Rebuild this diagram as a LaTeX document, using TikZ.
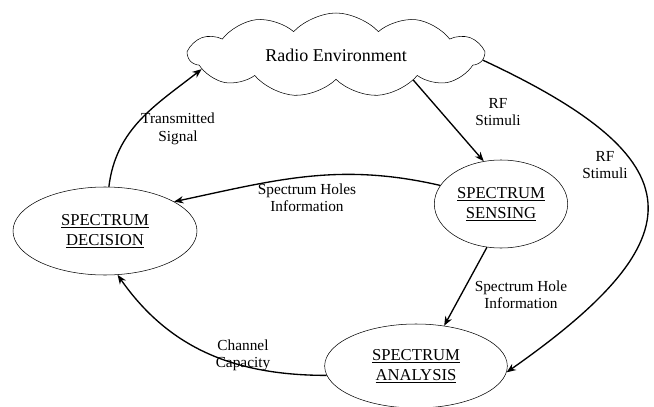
\documentclass[tikz,border=0pt]{standalone}
\usepackage{fontspec}
\setmainfont{Liberation Serif}
\usetikzlibrary{shapes.symbols,shapes.geometric,arrows.meta}

\begin{document}
\begin{tikzpicture}[x=0.75pt,y=-0.75pt,
    function/.style ={ellipse, draw, thin, inner sep = 0pt, align=center,
      font=\fontsize{12.5}{15}\selectfont},
    environment/.style ={cloud, draw, thin, cloud puffs=11, cloud puff arc=95,
      cloud ignores aspect, minimum width=221pt, minimum height=63pt,
      font=\fontsize{13.5}{15}\selectfont},
    flow/.style ={line width=1pt, -{Stealth[length=7pt,width=5.5pt]}},
    flowlabel/.style ={align=center, inner sep=0pt, font=\fontsize{11.5}{13}\selectfont}]
   \useasboundingbox (0,0) rectangle (654,407);
   \node[environment] (env) at (336,55) {Radio Environment};
   \node[function, minimum width=138pt, minimum height=66pt] (dec) at (105,231)
     {\underline{SPECTRUM}\\\underline{DECISION}};
   \node[function, minimum width=100pt, minimum height=66pt] (sens) at (501,204)
     {\underline{SPECTRUM}\\\underline{SENSING}};
   \node[function, minimum width=137pt, minimum height=63pt] (ana) at (416,366)
     {\underline{SPECTRUM}\\\underline{ANALYSIS}};
   % the cognitive cycle
   \draw[flow] (env.-18) -- (sens.112);
   \draw[flow] (env.-2) to [out=-25, in=35, looseness=1.93] (ana.-4);
   \draw[flow] (sens.163) to [out=167, in=12] (dec.23);
   \draw[flow] (sens.-108) -- (ana.55);
   \draw[flow] (ana.186) to [out=180, in=-55] (dec.-74);
   \draw[flow] (dec.85) to [out=83, in=218] (env.186);
   \node[flowlabel] (rf1) at (498,112) {RF\\Stimuli};
   \node[flowlabel] (rf2) at (605,165) {RF\\Stimuli};
   \node[flowlabel] (holes) at (307,198) {Spectrum Holes\\Information};
   \node[flowlabel] (hole) at (521,295) {Spectrum Hole\\Information};
   \node[flowlabel] (cap) at (243,355) {Channel\\Capacity};
   \node[flowlabel] (tx) at (178,129) {Transmitted\\Signal};
\end{tikzpicture}
\end{document}
